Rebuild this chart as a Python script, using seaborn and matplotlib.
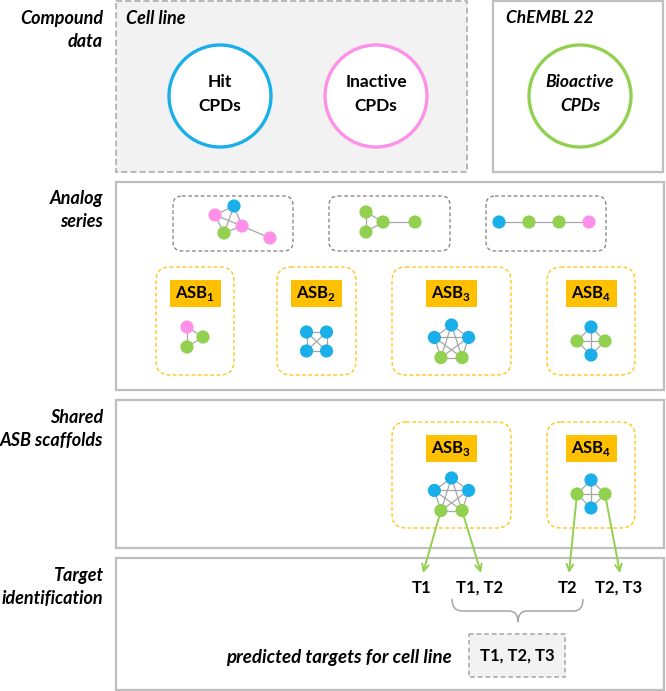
import numpy as np
import pandas as pd
import seaborn as sns
import matplotlib.pyplot as plt
from matplotlib.patches import FancyBboxPatch, Circle, Rectangle, PathPatch
from matplotlib.path import Path

sns.set_theme(style="white")
plt.rcParams['font.family'] = ['Lato', 'DejaVu Sans']
plt.rcParams['mathtext.fontset'] = 'custom'
plt.rcParams['mathtext.bf'] = 'Lato:bold'
plt.rcParams['mathtext.rm'] = 'Lato:bold'

# colours used in the scheme
BLUE, PINK, GREEN = "#19afe8", "#ff90ea", "#92d050"
ORANGE, GREY = "#ffc000", "#a6a6a6"
palette = {"hit": BLUE, "inactive": PINK, "bioactive": GREEN}

# row labels
row_labels = [("Compound", "data"), ("Analog", "series"),
              ("Shared", "ASB scaffolds"), ("Target", "identification")]
row_label_y = [18, 198, 417, 575]

# compound sets
set_names = [("Hit", "CPDs"), ("Inactive", "CPDs"), ("Bioactive", "CPDs")]
set_kinds = ["hit", "inactive", "bioactive"]

# analog series (node classes and edges)
series_nodes = [
    ["inactive", "hit", "inactive", "bioactive", "inactive"],
    ["bioactive", "bioactive", "bioactive", "bioactive"],
    ["hit", "bioactive", "bioactive", "inactive"],
]
series_edges = [
    [(0, 1), (0, 2), (0, 3), (1, 2), (1, 3), (2, 3), (2, 4)],
    [(0, 1), (0, 2), (1, 2), (2, 3)],
    [(0, 1), (1, 2), (2, 3)],
]
series_layout = [
    [(-17, -7), (2, -16), (10, 4), (-8, 11), (38, 16)],
    [(-17, -10), (-17, 10), (0, 0), (32, 0)],
    [(-45, 0), (-15, 0), (15, 0), (45, 0)],
]

# analog series based scaffolds
asb_names = ["1", "2", "3", "4"]
asb_nodes = [
    ["inactive", "bioactive", "bioactive"],
    ["hit", "hit", "hit", "hit"],
    ["hit", "hit", "bioactive", "bioactive", "hit"],
    ["hit", "bioactive", "hit", "bioactive"],
]
shared_asb = [2, 3]

# targets per shared scaffold node
target_labels = ["T1", "T1, T2", "T2", "T2, T3"]
predicted = "T1, T2, T3"


def layout(kind, n):
    if kind == 0:
        return [(-8, -10), (8, 0), (-8, 10)]
    if kind == 1:
        return [(-10, -10), (10, -10), (10, 9), (-10, 9)]
    if kind == 2:
        ang = np.pi / 2 + 2 * np.pi * np.arange(5) / 5
        r = 18
        return [(r * np.cos(a), -r * np.sin(a)) for a in ang]
    return [(0, -14), (14, 0), (0, 14), (-14, 0)]


def k_edges(n):
    return [(i, j) for i in range(n) for j in range(i + 1, n)]


fig = plt.figure(figsize=(6.66, 6.91), dpi=100)
ax = fig.add_axes([0, 0, 1, 1])
ax.set_xlim(0, 666)
ax.set_ylim(691, 0)
ax.axis("off")

bold = dict(fontweight="bold", color="black")
label_fs = 13

# row labels
for (l1, l2), y in zip(row_labels, row_label_y):
    ax.text(103, y, l1, ha="right", va="center", style="italic", fontsize=label_fs, **bold)
    ax.text(103, y + 23, l2, ha="right", va="center", style="italic", fontsize=label_fs, **bold)

# panels
ax.add_patch(Rectangle((116, 0.5), 351, 171.5, facecolor="#f2f2f2", edgecolor=GREY,
                       lw=1.1, ls=(0, (4, 2))))
ax.text(126, 18, "Cell line", ha="left", va="center", style="italic", fontsize=label_fs, **bold)
ax.add_patch(Rectangle((493, 1), 170, 171, facecolor="white", edgecolor="#bfbfbf", lw=1.6))
ax.text(506, 18, "ChEMBL 22", ha="left", va="center", style="italic", fontsize=12.5, **bold)
for y0, y1 in [(182, 390), (400, 548), (558, 690)]:
    ax.add_patch(Rectangle((116, y0), 548, y1 - y0, facecolor="white", edgecolor="#bfbfbf", lw=1.6))

# compound set circles
for (t1, t2), kind, cx in zip(set_names, set_kinds, [220, 376, 580]):
    ax.add_patch(Circle((cx, 96), 51, facecolor="white", edgecolor=palette[kind], lw=2.4))
    st = "italic" if kind == "bioactive" else "normal"
    ax.text(cx, 82, t1, ha="center", va="center", style=st, fontsize=12.5, **bold)
    ax.text(cx, 106, t2, ha="center", va="center", style=st, fontsize=12.5, **bold)

# collect nodes
rows = []


def add_graph(kinds, offs, edges, cx, cy, gid):
    pts = [(cx + dx, cy + dy) for dx, dy in offs]
    for i, j in edges:
        ax.plot([pts[i][0], pts[j][0]], [pts[i][1], pts[j][1]], color=GREY, lw=0.9, zorder=2)
    for k, (x, y) in zip(kinds, pts):
        rows.append(dict(x=x, y=y, kind=k, g=gid))
    return pts


# analog series boxes
for i, (kinds, edges, offs, (bx0, bx1)) in enumerate(zip(series_nodes, series_edges, series_layout,
                                                      [(173, 293), (329, 450), (486, 606)])):
    ax.add_patch(FancyBboxPatch((bx0, 196), bx1 - bx0, 55, boxstyle="round,pad=0,rounding_size=9",
                                facecolor="white", edgecolor="#7f7f7f", lw=0.9, ls=(0, (3, 2))))
    cx = [232, 383, 544][i]
    add_graph(kinds, offs, edges, cx, 222, f"s{i}")


def asb_box(idx, x0, x1, y0, y1, lab_y, cy, gid):
    ax.add_patch(FancyBboxPatch((x0, y0), x1 - x0, y1 - y0, boxstyle="round,pad=0,rounding_size=14",
                                facecolor="white", edgecolor=ORANGE, lw=0.9, ls=(0, (3, 2))))
    cx = (x0 + x1) / 2
    ax.add_patch(Rectangle((cx - 25.5, lab_y - 13.5), 51, 27, facecolor=ORANGE, edgecolor="none"))
    ax.text(cx, lab_y, r"ASB$_{\mathbf{" + asb_names[idx] + "}}$", ha="center", va="center",
            fontsize=12, **bold)
    kinds = asb_nodes[idx]
    edges = [(0, 1), (1, 2), (0, 2)] if idx == 0 else k_edges(len(kinds))
    return add_graph(kinds, layout(idx, len(kinds)), edges, cx, cy, gid)


asb_x = [(156, 234), (277, 356), (392, 511), (547, 635)]
for i, (x0, x1) in enumerate(asb_x):
    cy = [337, 342, 343, 341][i]
    asb_box(i, x0, x1, 267, 375, 293, cy, f"a{i}")

shared_pts = []
for i in shared_asb:
    x0, x1 = asb_x[i]
    cy = 496 if i == 2 else 494
    shared_pts.append(asb_box(i, x0, x1, 422, 528, 448, cy, f"sh{i}"))

# arrows from the bioactive nodes of shared scaffolds to targets
starts = [shared_pts[0][2], shared_pts[0][3], shared_pts[1][3], shared_pts[1][1]]
starts = sorted(starts, key=lambda p: p[0])
tips_x = [423, 481, 569, 620]
for (sx, sy), tx, lab in zip(starts, tips_x, target_labels):
    ax.annotate("", xy=(tx, 573), xytext=(sx, sy),
                arrowprops=dict(arrowstyle="->", color=GREEN, lw=1.4, mutation_scale=12,
                                shrinkA=0, shrinkB=0), zorder=1)
    ax.text(tx - 1, 588, lab, ha="center", va="center", fontsize=12, **bold)

# nodes drawn with seaborn
nodes = pd.DataFrame(rows)
sns.scatterplot(data=nodes, x="x", y="y", hue="kind", palette=palette, s=90,
                edgecolor="none", legend=False, ax=ax, zorder=3)
ax.set_xlim(0, 666)
ax.set_ylim(691, 0)
ax.axis("off")

# brace
verts = [(452, 599), (452, 611), (462, 611), (509, 611), (518, 611), (518, 622),
         (518, 611), (527, 611), (574, 611), (583, 611), (583, 599)]
codes = [Path.MOVETO, Path.CURVE3, Path.CURVE3, Path.LINETO, Path.CURVE3, Path.CURVE3,
         Path.CURVE3, Path.CURVE3, Path.LINETO, Path.CURVE3, Path.CURVE3]
ax.add_patch(PathPatch(Path(verts, codes), facecolor="none", edgecolor=GREY, lw=1.1))

# predicted targets
ax.add_patch(Rectangle((469, 634), 96, 43, facecolor="#f2f2f2", edgecolor=GREY, lw=1.1,
                       ls=(0, (3, 2))))
ax.text(517, 656, predicted, ha="center", va="center", fontsize=12, **bold)
ax.text(452, 657, "predicted targets for cell line", ha="right", va="center", style="italic",
        fontsize=13.5, **bold)

fig.savefig("out.png", dpi=100)
